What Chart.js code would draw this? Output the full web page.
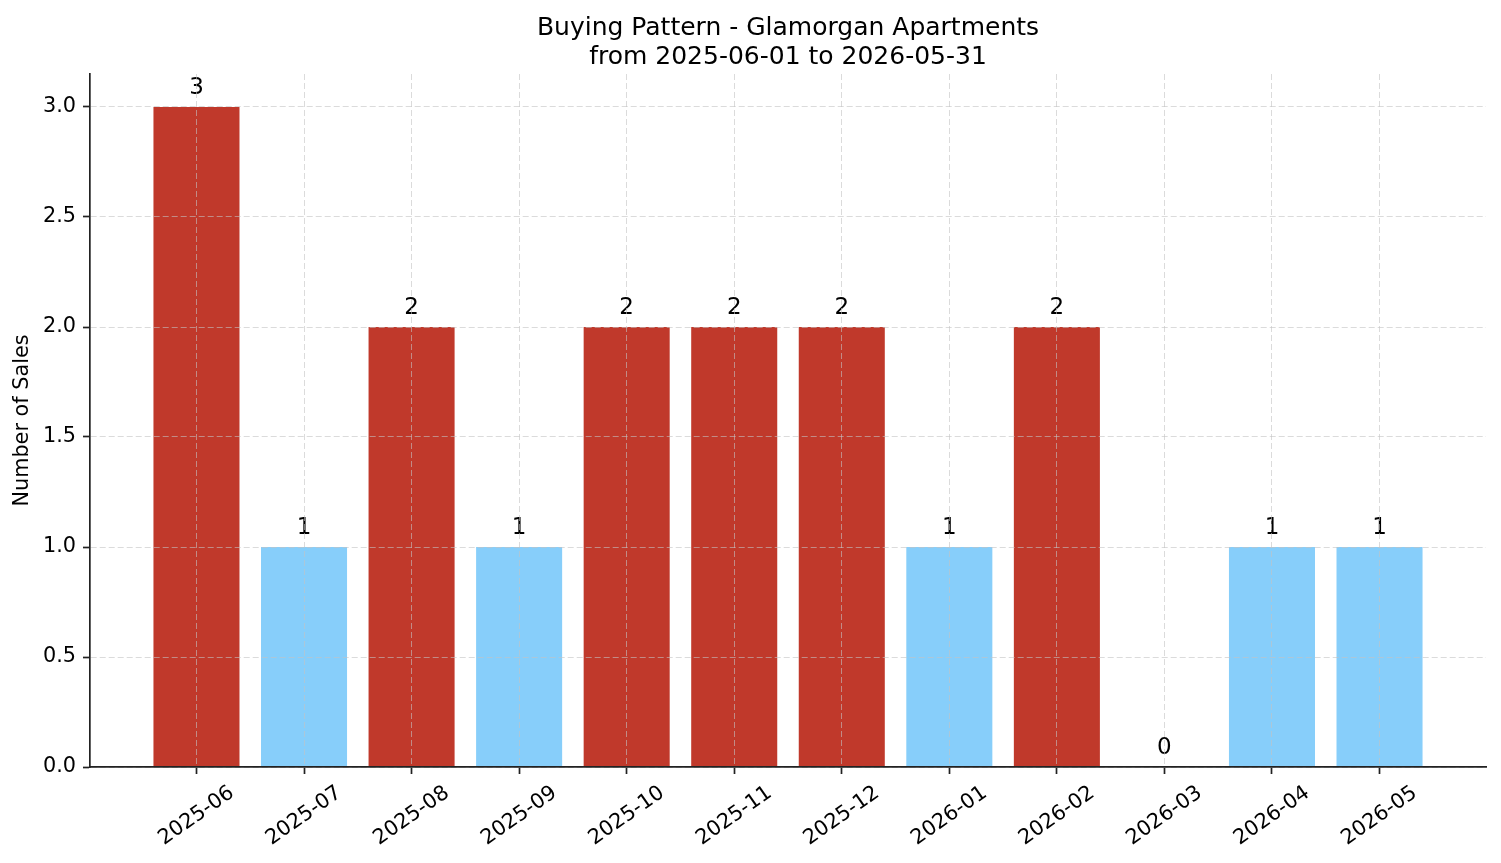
<!DOCTYPE html>
<html>
<head>
<meta charset="utf-8">
<script src="https://cdn.jsdelivr.net/npm/chart.js@4.4.1/dist/chart.umd.min.js"></script>
<style>
  html, body { margin: 0; padding: 0; background: #fff; }
  #wrap { width: 1501px; height: 863px; }
</style>
</head>
<body>
<div id="wrap"><canvas id="salesChart"></canvas></div>
<script>
// === Données ===
const months = ['2025-06', '2025-07', '2025-08', '2025-09', '2025-10', '2025-11',
                '2025-12', '2026-01', '2026-02', '2026-03', '2026-04', '2026-05'];
const sales = [3, 1, 2, 1, 2, 2, 2, 1, 2, 0, 1, 1];
const barColors = ['#C0392B', '#87CEFA', '#C0392B', '#87CEFA', '#C0392B', '#C0392B',
                   '#C0392B', '#87CEFA', '#C0392B', '#87CEFA', '#87CEFA', '#87CEFA'];
const yTicks = [0, 0.5, 1, 1.5, 2, 2.5, 3];
const titleLines = ['Buying Pattern - Glamorgan Apartments', 'from 2025-06-01 to 2026-05-31'];

const FONT = "'DejaVu Sans', sans-serif";
const AXIS_COLOR = '#222222';
const GRID_COLOR = 'rgba(195,195,195,0.6)';

// === Étiquettes des valeurs au-dessus des barres ===
const valueLabels = {
  id: 'valueLabels',
  afterDatasetsDraw(chart) {
    const { ctx } = chart;
    const meta = chart.getDatasetMeta(0);
    ctx.save();
    ctx.font = `23px ${FONT}`;
    ctx.fillStyle = '#000';
    ctx.textAlign = 'center';
    ctx.textBaseline = 'alphabetic';
    meta.data.forEach((bar, i) => {
      ctx.fillText(String(sales[i]), bar.x, bar.y - 13);
    });
    ctx.restore();
  }
};

// === Étiquettes de l'axe X (rotation 35°, centrées comme matplotlib) ===
const xTickLabels = {
  id: 'xTickLabels',
  afterDraw(chart) {
    const { ctx } = chart;
    const xScale = chart.scales.x;
    const fontSize = 20.8;
    const angle = 35 * Math.PI / 180;
    const top = chart.chartArea.bottom + 7 + 7;
    ctx.save();
    ctx.font = `${fontSize}px ${FONT}`;
    ctx.fillStyle = '#000';
    ctx.textAlign = 'center';
    ctx.textBaseline = 'middle';
    months.forEach((label, i) => {
      const w = ctx.measureText(label).width;
      const h = fontSize * 1.16;
      const bboxH = w * Math.sin(angle) + h * Math.cos(angle);
      const x = xScale.getPixelForValue(i);
      const y = top + bboxH / 2;
      ctx.save();
      ctx.translate(x, y);
      ctx.rotate(-angle);
      ctx.fillText(label, 0, 0);
      ctx.restore();
    });
    ctx.restore();
  }
};

const gridOpts = {
  z: 1,
  offset: false,
  color: GRID_COLOR,
  lineWidth: 1,
  drawTicks: true,
  tickLength: 7,
  tickColor: AXIS_COLOR,
  tickWidth: 1.7,
  tickBorderDash: []
};
const borderOpts = { display: true, color: AXIS_COLOR, width: 1.7, dash: [6, 3], z: 2 };

const ctx = document.getElementById('salesChart').getContext('2d');

new Chart(ctx, {
  type: 'bar',
  data: {
    datasets: [{
      data: sales.map((v, i) => ({ x: i, y: v })),
      backgroundColor: barColors,
      borderWidth: 0,
      barPercentage: 0.8,
      categoryPercentage: 1.0
    }]
  },
  options: {
    responsive: true,
    maintainAspectRatio: false,
    animation: false,
    layout: { padding: { left: 0, right: 15, top: 0, bottom: 0 } },
    plugins: {
      legend: { display: false },
      tooltip: { enabled: false },
      title: {
        display: true,
        text: titleLines,
        fullSize: false,
        color: '#000',
        font: { family: FONT, size: 25, weight: 'normal', lineHeight: 1.15 },
        padding: { top: 14, bottom: 2.5 }
      }
    },
    scales: {
      x: {
        type: 'linear',
        offset: false,
        min: -0.99,
        max: 11.99,
        afterBuildTicks: (scale) => { scale.ticks = months.map((m, i) => ({ value: i })); },
        afterFit: (scale) => { scale.height = 96; },
        ticks: { display: false },
        grid: gridOpts,
        border: borderOpts
      },
      y: {
        min: 0,
        max: 3.15,
        afterBuildTicks: (scale) => { scale.ticks = yTicks.map(v => ({ value: v })); },
        afterFit: (scale) => { scale.width = 90; },
        ticks: {
          color: '#000',
          padding: 7,
          font: { family: FONT, size: 20.8 },
          callback: (v) => Number(v).toFixed(1)
        },
        grid: gridOpts,
        border: borderOpts,
        title: {
          display: true,
          text: 'Number of Sales',
          color: '#000',
          font: { family: FONT, size: 20.8 },
          padding: { top: 10, bottom: 0 }
        }
      }
    }
  },
  plugins: [valueLabels, xTickLabels]
});
</script>
</body>
</html>
